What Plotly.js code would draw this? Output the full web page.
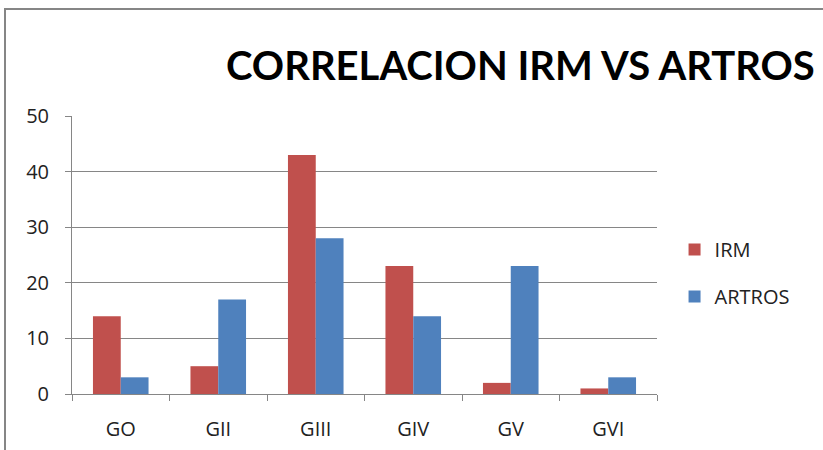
<!DOCTYPE html>
<html><head><meta charset="utf-8">
<script src="https://cdn.plot.ly/plotly-3.0.1.min.js"></script>
<style>body{margin:0;background:#fff}#c{width:823px;height:450px}</style>
</head><body><div id="c"></div>
<script>
const categories = ["GO","GII","GIII","GIV","GV","GVI"];
const irm = [14,5,43,23,2,1];
const artros = [3,17,28,14,23,3];
const seriesNames = ["IRM","ARTROS"];

const font = "Open Sans, Lato, sans-serif";
const traces = [
  {type:"bar", name:seriesNames[0], x:categories, y:irm, marker:{color:"#C0504D"}, legendgroup:"a"},
  {type:"bar", name:seriesNames[1], x:categories, y:artros, marker:{color:"#4F81BD"}, legendgroup:"b"}
];
const layout = {
  width:823, height:450,
  margin:{l:72, r:166, t:116, b:56, autoexpand:false},
  paper_bgcolor:"#fff", plot_bgcolor:"#fff",
  barmode:"group", bargap:0.43, bargroupgap:0,
  title:{text:"<b>CORRELACION IRM VS ARTROS</b>", font:{family:"Lato, sans-serif", size:40, color:"#000"},
    xref:"container", yref:"container", x:226/823, xanchor:"left", y:1-66/450, yanchor:"middle"},
  xaxis:{type:"category", tickson:"boundaries", ticks:"outside", ticklen:6, tickcolor:"#868686",
    showline:true, linecolor:"#868686", linewidth:1, showgrid:false, ticklabelstandoff:17,
    tickfont:{family:font, size:20, color:"#222"}, fixedrange:true},
  yaxis:{range:[0,50], dtick:10, ticks:"outside", ticklen:6, tickcolor:"#868686",
    showline:true, linecolor:"#868686", linewidth:1, showgrid:true, gridcolor:"#868686", gridwidth:1,
    zeroline:false, tickfont:{family:font, size:20, color:"#222"}, ticklabelstandoff:12},
  legend:{x:1.03, xanchor:"left", y:0.59, yanchor:"top", tracegroupgap:18,
    font:{family:font, size:20, color:"#222"}, itemwidth:30},
  showlegend:true,
  shapes:[{type:"rect", xref:"paper", yref:"paper", x0:-67/585, x1:1.5, y0:-0.5, y1:(394-9)/278,
    line:{color:"#868686", width:2}, fillcolor:"rgba(0,0,0,0)", layer:"below"}]
};
Plotly.newPlot("c", traces, layout, {displayModeBar:false, staticPlot:true});
</script></body></html>
